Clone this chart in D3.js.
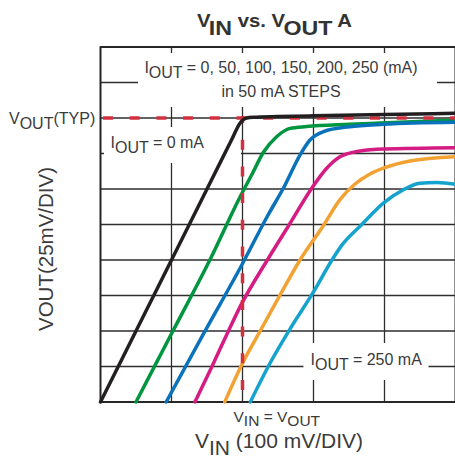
<!DOCTYPE html>
<html>
<head>
<meta charset="utf-8">
<script src="https://cdn.jsdelivr.net/npm/d3@7"></script>
<style>
  html, body { margin: 0; padding: 0; background: #fff; }
  svg { display: block; font-family: "Liberation Sans", Arial, Helvetica, sans-serif; }
</style>
</head>
<body>
<svg id="chart" width="455" height="459"></svg>
<script>
// Relative scale in mV: VIN at 100 mV/div (5 divisions), VOUT at 25 mV/div (10 divisions)
const xTicks = [0, 100, 200, 300, 400, 500];
const yTicks = [0, 25, 50, 75, 100, 125, 150, 175, 200, 225, 250];
const voutTyp = 200;     // nominal regulated output
const vinAtVout = 200;   // point where VIN = VOUT(TYP)

const loadCurrents = [0, 50, 100, 150, 200, 250];   // mA
const curveColors = ["#231f20", "#00953f", "#0a72ba", "#d51c83", "#f2a233", "#15a3cd"];

// [VIN, VOUT] in mV for each load current
const iout0   = [[0,0],[50,50],[100,100],[150,150],[185,185],[196,196],[201,198.8],[206,200],[215,200.5],[250,201],[300,201.5],[400,202.5],[500,203.3]];
const iout50  = [[50,0],[102,50],[154,100],[196.5,144.4],[215,162],[229,175.5],[248,186.8],[267,192.7],[290,194],[351,195.6],[394,196.5],[500,198.6]];
const iout100 = [[92.5,0],[145,48],[199,96.5],[236,131.7],[257.5,150.5],[281,173.9],[295,184.5],[314,190.4],[351,193.9],[399,195.6],[500,197]];
const iout150 = [[133,0],[157,25],[180,49.8],[196.5,67],[235,100],[266,125],[297.5,150.5],[318.6,164.6],[337.3,172.7],[365.5,176.8],[399.3,178.2],[500,179.1]];
const iout200 = [[175,0],[200,27.3],[226,51],[253,75.4],[281,100],[315,125],[337,142.3],[358.5,153.5],[379.6,160.6],[399.3,164.8],[436,169.7],[500,172.7]];
const iout250 = [[211,0],[238.7,27.3],[267,51.5],[300,77.5],[326,100],[340,110.5],[368,125],[398,139.9],[426,149.3],[450,154],[474,154.6],[500,153.3]];
const seriesData = [iout0, iout50, iout100, iout150, iout200, iout250];

const svg = d3.select("#chart");
const plot = { left: 100.5, right: 455.5, top: 47, bottom: 402 };

const x = d3.scaleLinear().domain([0, 500]).range([plot.left, plot.right]);
const y = d3.scaleLinear().domain([0, 250]).range([plot.bottom, plot.top]);

const gridColor = "#2e2e2e";
const textColor = "#3b3b3b";

// Grid
const grid = svg.append("g");
grid.selectAll("line.v").data(xTicks).join("line")
  .attr("x1", d => x(d)).attr("x2", d => x(d))
  .attr("y1", y(0)).attr("y2", y(250))
  .attr("stroke", gridColor).attr("stroke-width", 1.3);
grid.selectAll("line.h").data(yTicks).join("line")
  .attr("x1", x(0)).attr("x2", x(500))
  .attr("y1", d => y(d)).attr("y2", d => y(d))
  .attr("stroke", gridColor).attr("stroke-width", 1.3);

// White backgrounds behind the in-plot annotations
const boxes = [
  { x0: 138, x1: 437, y0: 53, y1: 107 },
  { x0: 104, x1: 241, y0: 127, y1: 163 },
  { x0: 303.5, x1: 428.5, y0: 343, y1: 380 }
];
svg.append("g").selectAll("rect").data(boxes).join("rect")
  .attr("x", d => d.x0).attr("y", d => d.y0)
  .attr("width", d => d.x1 - d.x0).attr("height", d => d.y1 - d.y0)
  .attr("fill", "#fff");

// Frame
svg.append("rect")
  .attr("x", plot.left).attr("y", plot.top)
  .attr("width", plot.right - plot.left).attr("height", plot.bottom - plot.top)
  .attr("fill", "none").attr("stroke", "#222").attr("stroke-width", 1.8);

const line = d3.line().x(d => x(d[0])).y(d => y(d[1])).curve(d3.curveMonotoneX);

// Loaded curves
svg.append("g").selectAll("path").data(seriesData.slice(1)).join("path")
  .attr("d", line)
  .attr("fill", "none")
  .attr("stroke", (d, i) => curveColors[i + 1])
  .attr("stroke-width", 3.5)
  .attr("stroke-linecap", "round");

// VOUT(TYP) and VIN = VOUT reference lines
const dash = "10,16.7";
svg.append("line")
  .attr("x1", x(0)).attr("x2", x(500))
  .attr("y1", y(voutTyp)).attr("y2", y(voutTyp))
  .attr("stroke", "#d3303f").attr("stroke-width", 3.5)
  .attr("stroke-dasharray", dash).attr("stroke-dashoffset", 24.2);
svg.append("line")
  .attr("x1", x(vinAtVout)).attr("x2", x(vinAtVout))
  .attr("y1", y(voutTyp) - 2).attr("y2", y(0))
  .attr("stroke", "#d3303f").attr("stroke-width", 3.5)
  .attr("stroke-dasharray", dash).attr("stroke-dashoffset", 3);

// No-load curve on top
svg.append("path").datum(iout0)
  .attr("d", line)
  .attr("fill", "none")
  .attr("stroke", curveColors[0])
  .attr("stroke-width", 3.5)
  .attr("stroke-linecap", "round");

// Helper: text with a subscripted run
function subText(g, xPos, yPos, parts, size, opts = {}) {
  const t = g.append("text")
    .attr("x", xPos).attr("y", yPos)
    .attr("font-size", size)
    .attr("fill", opts.fill || textColor);
  if (opts.anchor) t.attr("text-anchor", opts.anchor);
  if (opts.weight) t.attr("font-weight", opts.weight);
  let shift = 0;
  parts.forEach(p => {
    const target = p.sub ? (p.sub === true ? 5 : p.sub) : 0;
    const s = t.append("tspan").text(p.t).attr("dy", target - shift);
    if (p.size) s.attr("font-size", p.size);
    if (p.dx) s.attr("dx", p.dx);
    shift = target;
  });
  return t;
}

const labels = svg.append("g");

// Title
subText(labels, 197, 27, [
  { t: "V" }, { t: "IN", sub: 8, size: 20, dx: -1.5 },
  { t: " vs. V" }, { t: "OUT", sub: 8, size: 20, dx: -1.5 }, { t: " A" }
], 17.5, { weight: "bold", fill: "#333" })
  .attr("textLength", 155).attr("lengthAdjust", "spacingAndGlyphs");

// Load-current legend
subText(labels, 281, 72.5, [
  { t: "I" }, { t: "OUT", sub: true }, { t: " = " + loadCurrents.join(", ") + " (mA)" }
], 16, { anchor: "middle" });
labels.append("text").attr("x", 281).attr("y", 96.7)
  .attr("text-anchor", "middle").attr("font-size", 16).attr("fill", textColor)
  .text("in 50 mA STEPS");

subText(labels, 110.5, 148, [
  { t: "I" }, { t: "OUT", sub: true }, { t: " = " + loadCurrents[0] + " mA" }
], 16);

subText(labels, 310.5, 365, [
  { t: "I" }, { t: "OUT", sub: true }, { t: " = " + loadCurrents[5] + " mA" }
], 16);

// VOUT(TYP) marker label
subText(labels, 9, 123.5, [
  { t: "V" }, { t: "OUT", sub: true }, { t: "(TYP)" }
], 16);

// VIN = VOUT marker label
subText(labels, 233.5, 421.5, [
  { t: "V" }, { t: "IN", sub: 4.5 }, { t: " = V" }, { t: "OUT", sub: 4.5 }
], 15.5);

// Axis titles
subText(labels, 195, 448.3, [
  { t: "V" }, { t: "IN", sub: 6.5 }, { t: " (100 mV/DIV)" }
], 20)
  .attr("textLength", 168).attr("lengthAdjust", "spacingAndGlyphs");

labels.append("text")
  .attr("transform", "translate(53,249) rotate(-90)")
  .attr("text-anchor", "middle")
  .attr("font-size", 20.5).attr("fill", textColor)
  .text("VOUT(25mV/DIV)");
</script>
</body>
</html>
